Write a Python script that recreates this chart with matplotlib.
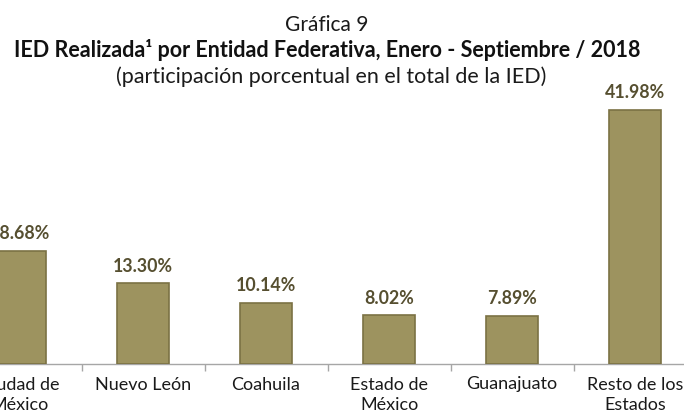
import matplotlib
matplotlib.use('Agg')
import matplotlib.pyplot as plt
import numpy as np

plt.rcParams['font.family'] = ['Lato', 'DejaVu Sans']

estados = ['Ciudad de\nMéxico', 'Nuevo León', 'Coahuila', 'Estado de\nMéxico',
           'Guanajuato', 'Resto de los\nEstados']
participacion = [18.68, 13.30, 10.14, 8.02, 7.89, 41.98]
etiquetas = ['18.68%', '13.30%', '10.14%', '8.02%', '7.89%', '41.98%']

fig = plt.figure(figsize=(6.84, 4.17), dpi=100)
# el área de la gráfica se sale del lienzo por los lados (imagen recortada)
ax = fig.add_axes([-41.5 / 684, 53 / 417, 738 / 684, 303 / 417])

idx = np.arange(len(estados))
ax.bar(idx, participacion, width=0.42, color='#9d935f',
       edgecolor='#7b7244', linewidth=1.2, zorder=3)

for i, v in enumerate(participacion):
    ax.annotate(etiquetas[i], (idx[i], v), xytext=(0, 8.5), textcoords='offset points',
                ha='center', va='baseline', fontsize=12.8, fontweight='bold',
                color='#564f30')

ax.set_xlim(-0.5, len(estados) - 0.5)
ax.set_ylim(0, 50)
ax.set_yticks([])
for s in ['left', 'top', 'right']:
    ax.spines[s].set_visible(False)
ax.spines['bottom'].set_color('#a6a6a6')
ax.spines['bottom'].set_linewidth(1)

ax.set_xticks(idx)
ax.set_xticklabels(estados, fontsize=13, color='#1a1a1a', linespacing=1.35)
ax.tick_params(axis='x', which='major', length=0, pad=9)
ax.set_xticks(idx[:-1] + 0.5, minor=True)
ax.tick_params(axis='x', which='minor', length=5, color='#a6a6a6', width=1)

fig.text(327 / 684, 1 - 31 / 417, 'Gráfica 9', ha='center', va='baseline',
         fontsize=15, color='#1a1a1a')
fig.text(327 / 684, 1 - 57 / 417,
         'IED Realizada¹ por Entidad Federativa, Enero - Septiembre / 2018',
         ha='center', va='baseline', fontsize=15.5, fontweight='bold', color='#111111')
fig.text(331 / 684, 1 - 83 / 417, '(participación porcentual en el total de la IED)',
         ha='center', va='baseline', fontsize=15.5, color='#1a1a1a')

fig.savefig('out.png', dpi=100)
